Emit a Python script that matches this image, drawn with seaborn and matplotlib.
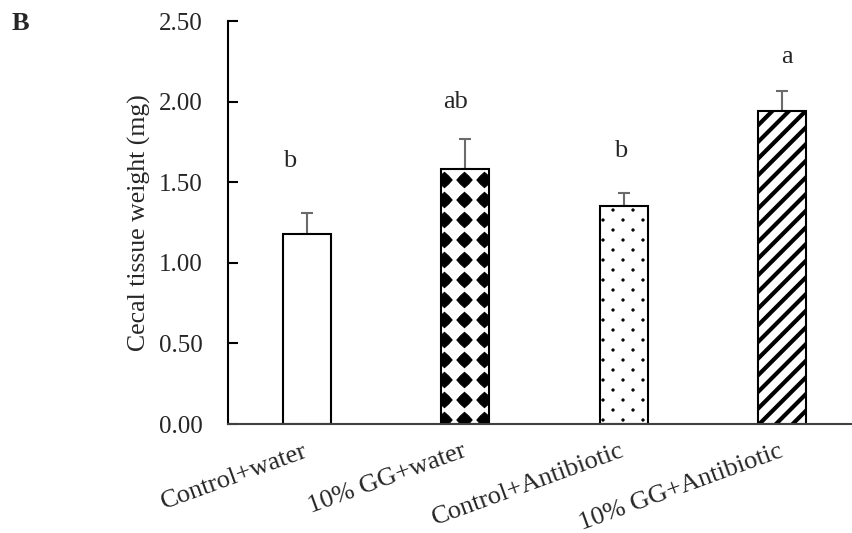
import numpy as np
import pandas as pd
import matplotlib
matplotlib.use("Agg")
import matplotlib.pyplot as plt
import matplotlib.hatch as mhatch
from matplotlib.path import Path
import seaborn as sns

# ---------------- data ----------------
groups = ["Control+water", "10% GG+water", "Control+Antibiotic", "10% GG+Antibiotic"]
means = [1.18, 1.58, 1.35, 1.94]
errors = [0.13, 0.19, 0.08, 0.125]
letters = ["b", "ab", "b", "a"]
yticks = [0.0, 0.5, 1.0, 1.5, 2.0, 2.5]
ylabel = "Cecal tissue weight (mg)"
panel = "B"

# ---------------- custom fill patterns (styling only) ----------------
class _GridShapes(mhatch.HatchPatternBase):
    char = "*"
    ncols = 5
    nrows = 5
    stagger = False
    size = 0.38
    dx = 0.0
    dy = 0.0

    def shape(self):
        p = Path.unit_regular_star(4, innerCircle=0.75)
        return p.vertices.copy(), p.codes.copy()

    def _centers(self):
        pts = []
        for r in range(-1, self.nrows + 2):
            y = r / self.nrows + self.dy
            if self.stagger and r % 2 != 0:
                xs = [(c + 0.5) / self.ncols + self.dx for c in range(-1, self.ncols + 1)]
            else:
                xs = [c / self.ncols + self.dx for c in range(-1, self.ncols + 2)]
            pts.extend((x, y) for x in xs)
        return pts

    def __init__(self, hatch, density):
        self.shape_vertices, self.shape_codes = self.shape()
        if hatch.count(self.char) > 0:
            self.num_shapes = len(self._centers())
            self.num_vertices = self.num_shapes * len(self.shape_vertices)
        else:
            self.num_shapes = 0
            self.num_vertices = 0

    def set_vertices_and_codes(self, vertices, codes):
        sv = self.shape_vertices * (self.size / self.ncols)
        vertices[:] = np.concatenate([sv + np.array(p) for p in self._centers()])
        codes[:] = np.tile(self.shape_codes, self.num_shapes)


class _BlobGrid(_GridShapes):
    char = "*"
    ncols = 5
    nrows = 5
    stagger = False
    size = 0.38
    dx = 0.045


class _DotGrid(_GridShapes):
    char = "."
    ncols = 5
    nrows = 10
    stagger = True
    size = 0.06
    dx = 0.03

    def shape(self):
        p = Path.unit_circle()
        return p.vertices.copy(), p.codes.copy()


_types = mhatch._hatch_types
for i, t in enumerate(_types):
    if t is mhatch.Stars:
        _types[i] = _BlobGrid
    elif t is mhatch.SmallFilledCircles:
        _types[i] = _DotGrid


def _with_hatch_lw(artist, lw):
    orig = artist.draw

    def draw(renderer):
        with plt.rc_context({"hatch.linewidth": lw}):
            orig(renderer)
    artist.draw = draw
    if hasattr(artist, "set_hatch_linewidth"):
        artist.set_hatch_linewidth(lw)


# ---------------- plot ----------------
sns.set_theme(style="white")
plt.rcParams["font.family"] = ["Liberation Serif", "DejaVu Serif"]

fig = plt.figure(figsize=(8.52, 5.33), dpi=100)
ax = fig.add_axes([0.2672, 0.2045, 0.7437, 0.7561])

df = pd.DataFrame({"group": groups, "mean": means})
sns.barplot(data=df, x="group", y="mean", color="white", saturation=1,
            edgecolor="black", linewidth=1.5, width=0.305, errorbar=None, ax=ax)

hatches = ["", "*", ".", "//"]
hatch_lw = [1.0, 0.8, 0.6, 3.0]
for p, h, lw in zip(ax.patches, hatches, hatch_lw):
    p.set_hatch(h)
    _with_hatch_lw(p, lw)

x = np.arange(len(groups))
ax.errorbar(x, means, yerr=[np.zeros(len(means)), errors], fmt="none",
            ecolor="#6b6b6b", elinewidth=1.5, capsize=4, capthick=1.5, zorder=0.9)

letter_y = [1.595, 1.96, 1.655, 2.24]
letter_dx = [-0.11, -0.06, -0.02, 0.03]
for xi, dx, ly, t in zip(x, letter_dx, letter_y, letters):
    ax.text(xi + dx, ly, t, ha="center", va="baseline", fontsize=19)

ax.set_xlim(-0.5, 3.5)
ax.set_ylim(0, 2.5)
ax.set_yticks(yticks)
ax.set_yticklabels([f"{v:.2f}" for v in yticks])
ax.set_xlabel("")
ax.set_ylabel(ylabel, fontsize=18.5, labelpad=6)

sns.despine(ax=ax)
ax.spines["left"].set_color("black")
ax.spines["left"].set_linewidth(1.5)
ax.spines["bottom"].set_color("#404040")
ax.spines["bottom"].set_linewidth(1.5)

ax.tick_params(axis="y", direction="in", length=7, width=1.5, color="black",
               labelsize=18, pad=18, left=True)
ax.tick_params(axis="x", length=0, labelsize=19, pad=19)
for lab in ax.get_xticklabels():
    lab.set_rotation(20)
    lab.set_ha("right")
    lab.set_va("center")
    lab.set_rotation_mode("anchor")

fig.text(0.014, 0.977, panel, fontsize=19, fontweight="bold", va="top", ha="left")

fig.savefig("out.png", dpi=100)
